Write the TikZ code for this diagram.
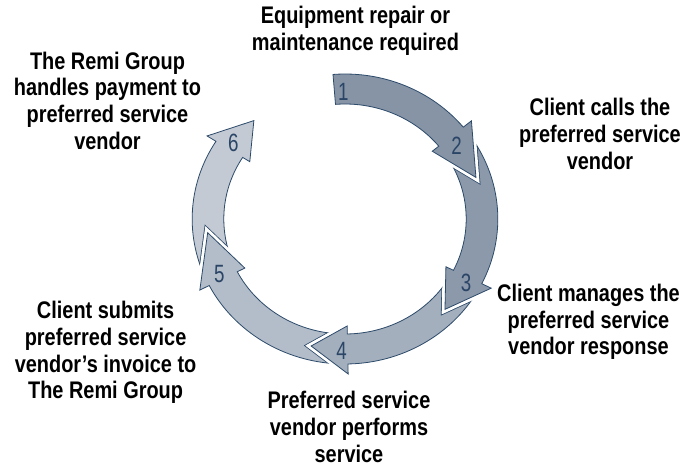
\documentclass[tikz,border=0pt]{standalone}
\usepackage{fontspec}
\setmainfont{Liberation Sans}
\newfontfamily\captionfont{Liberation Sans}[FakeStretch=0.83]
\newfontfamily\digitfont{Liberation Sans}[FakeStretch=0.75]
\definecolor{edgecol}{HTML}{2C4A6A}
\definecolor{numcol}{HTML}{2B4566}
\definecolor{colA}{HTML}{8694A6}
\definecolor{colB}{HTML}{8C99AB}
\definecolor{colC}{HTML}{A3AFBD}
\definecolor{colD}{HTML}{B3BDC9}
\definecolor{colE}{HTML}{C3CAD4}
% curved ring arrow: #1 tail angle, #2 head base angle, #3 tip angle
\newcommand{\ringpath}[3]{(#1:145) arc[start angle=#1, end angle=#2, radius=145]
  -- (#2:155) -- (#3:131) -- (#2:107) -- (#2:115)
  arc[start angle=#2, end angle=#1, radius=115] -- cycle}
\begin{document}
\begin{tikzpicture}[x=1pt,y=1pt,
  caption/.style={font=\captionfont\fontsize{24}{26.7}\selectfont\bfseries, align=center,
    inner sep=0pt, text=black},
  stepnum/.style={font=\digitfont\fontsize{25}{25}\selectfont, text=numcol, inner sep=0pt},
  ringfill/.style={fill=#1, draw=edgecol, line width=0.8pt, line join=miter},
  notchdark/.style={draw=edgecol, line width=8pt},
  notchwhite/.style={draw=white, line width=6.4pt}]
\useasboundingbox (0,0) rectangle (689,-466);
\fill[white] (0,0) rectangle (689,-466);

\begin{scope}[shift={(345,-219)}, xscale=1.054]
  % step 5 -> 6
  \path[ringfill=colE] \ringpath{-156.2}{-212.4}{-228.7};
  % step 4 -> 5
  \begin{scope}\clip \ringpath{-156.2}{-212.4}{-228.7};
    \path[notchdark] \ringpath{-92.4}{-152.7}{-174};
  \end{scope}
  \path[notchwhite] \ringpath{-92.4}{-152.7}{-174};
  \path[ringfill=colD] \ringpath{-92.4}{-152.7}{-174};
  % step 3 -> 4
  \begin{scope}\clip \ringpath{-92.4}{-152.7}{-174};
    \path[notchdark] \ringpath{-30}{-88.9}{-104.2};
  \end{scope}
  \path[notchwhite] \ringpath{-30}{-88.9}{-104.2};
  \path[ringfill=colC] \ringpath{-30}{-88.9}{-104.2};
  % step 2 -> 3
  \begin{scope}\clip \ringpath{-30}{-88.9}{-104.2};
    \path[notchdark] \ringpath{35.8}{-26.5}{-43.6};
  \end{scope}
  \path[notchwhite] \ringpath{35.8}{-26.5}{-43.6};
  \path[ringfill=colB] \ringpath{35.8}{-26.5}{-43.6};
  % step 1 -> 2
  \begin{scope}\clip \ringpath{35.8}{-26.5}{-43.6};
    \path[notchdark] \ringpath{94.5}{39.3}{18.5};
  \end{scope}
  \path[notchwhite] \ringpath{94.5}{39.3}{18.5};
  \path[ringfill=colA] \ringpath{94.5}{39.3}{18.5};
\end{scope}

% step numbers
\node[stepnum] (n1) at (343.3,-91.7) {1};
\node[stepnum] (n2) at (456.7,-146) {2};
\node[stepnum] (n3) at (466,-283.3) {3};
\node[stepnum] (n4) at (341.7,-350.7) {4};
\node[stepnum] (n5) at (219.3,-274) {5};
\node[stepnum] (n6) at (233.3,-143.3) {6};

% step captions
\node[caption] (t1) at (355.5,-30.8) {Equipment repair or\\maintenance required};
\node[caption] (t2) at (600,-134) {Client calls the\\preferred service\\vendor};
\node[caption] (t3) at (588.5,-322) {Client manages the\\preferred service\\vendor response};
\node[caption] (t4) at (349,-427) {Preferred service\\vendor performs\\service};
\node[caption] (t5) at (105.6,-352.5) {Client submits\\preferred service\\vendor’s invoice to\\The Remi Group};
\node[caption] (t6) at (107.5,-100.75) {The Remi Group\\handles payment to\\preferred service\\vendor};
\end{tikzpicture}
\end{document}
